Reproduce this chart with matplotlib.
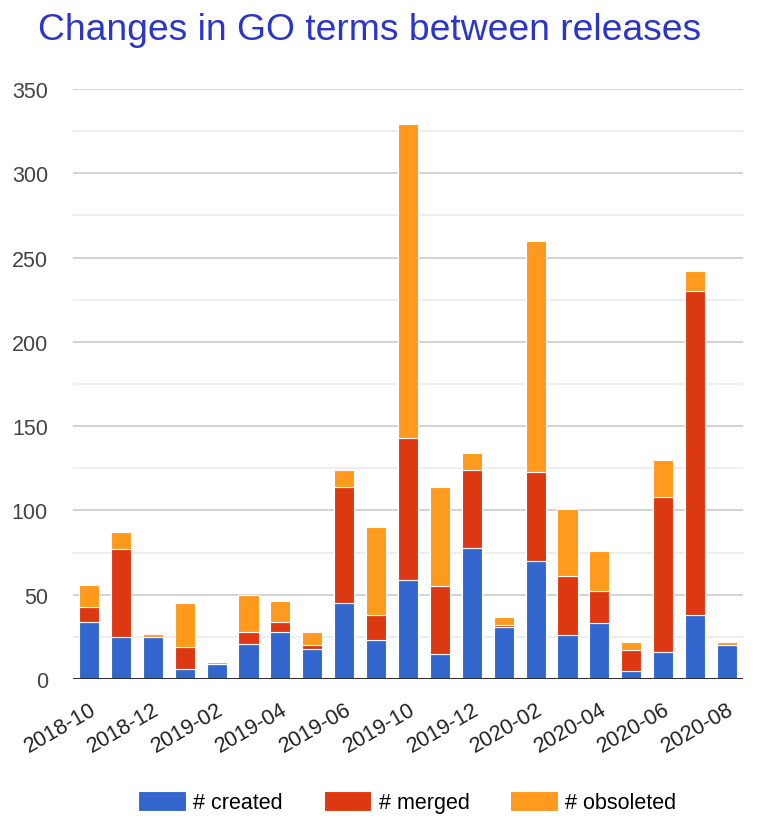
import matplotlib.pyplot as plt
import numpy as np

plt.rcParams['font.family'] = ['Liberation Sans', 'DejaVu Sans']

# releases (only every other label is shown on the axis)
releases = ['2018-10', '2018-11', '2018-12', '2019-01', '2019-02', '2019-03',
            '2019-04', '2019-05', '2019-06', '2019-07', '2019-10', '2019-11',
            '2019-12', '2020-01', '2020-02', '2020-03', '2020-04', '2020-05',
            '2020-06', '2020-07', '2020-08']
created = [34, 25, 25, 6, 9, 21, 28, 18, 45, 23, 59, 15, 78, 31, 70, 26, 33, 5, 16, 38, 20]
merged = [9, 52, 0, 13, 0, 7, 6, 2, 69, 15, 84, 40, 46, 1, 53, 35, 19, 12, 92, 192, 0]
obsoleted = [13, 10, 2, 26, 1, 22, 12, 8, 10, 52, 186, 59, 10, 5, 137, 40, 24, 5, 22, 12, 2]

colors = ['#3366cc', '#dc3912', '#ff9a1f']
names = ['# created', '# merged', '# obsoleted']

fig = plt.figure(figsize=(7.57, 8.28), dpi=100)
ax = fig.add_axes([0.0964, 0.1787, 0.8851, 0.7126])

x = np.arange(len(releases))
c = np.array(created)
m = np.array(merged)
o = np.array(obsoleted)
w = 0.63
ax.bar(x, c, w, color=colors[0], edgecolor='white', linewidth=0.8, label=names[0], zorder=3)
ax.bar(x, m, w, bottom=c, color=colors[1], edgecolor='white', linewidth=0.8, label=names[1], zorder=3)
ax.bar(x, o, w, bottom=c + m, color=colors[2], edgecolor='white', linewidth=0.8, label=names[2], zorder=3)

ax.set_xlim(-0.5, len(releases) - 0.5)
ax.set_ylim(0, 350)
ax.set_yticks(np.arange(0, 351, 50))
ax.set_yticks(np.arange(25, 350, 50), minor=True)
ax.grid(axis='y', which='major', color='#cccccc', linewidth=1.2, zorder=0)
ax.grid(axis='y', which='minor', color='#ebebeb', linewidth=1.2, zorder=0)
ax.axhline(0, color='#333333', linewidth=1.5, zorder=4)
for s in ax.spines.values():
    s.set_visible(False)
ax.tick_params(axis='both', which='both', length=0)
ax.tick_params(axis='y', labelsize=15.5, labelcolor='#444444', pad=18)

ax.set_xticks(x[::2])
ax.set_xticklabels(releases[::2], rotation=30, ha='right', rotation_mode='anchor',
                   fontsize=15.5, color='#222222')
ax.tick_params(axis='x', pad=14)

fig.text(0.05, 0.963, 'Changes in GO terms between releases', color='#2b35c8',
         fontsize=26.8, ha='left', va='center')

fig.legend(loc='center', bbox_to_anchor=(0.538, 1 - 803 / 828), ncol=3, frameon=False,
           fontsize=15.5, handlelength=2.2, handleheight=1.05, handletextpad=0.35,
           columnspacing=1.9)

fig.savefig('out.png', dpi=100)
